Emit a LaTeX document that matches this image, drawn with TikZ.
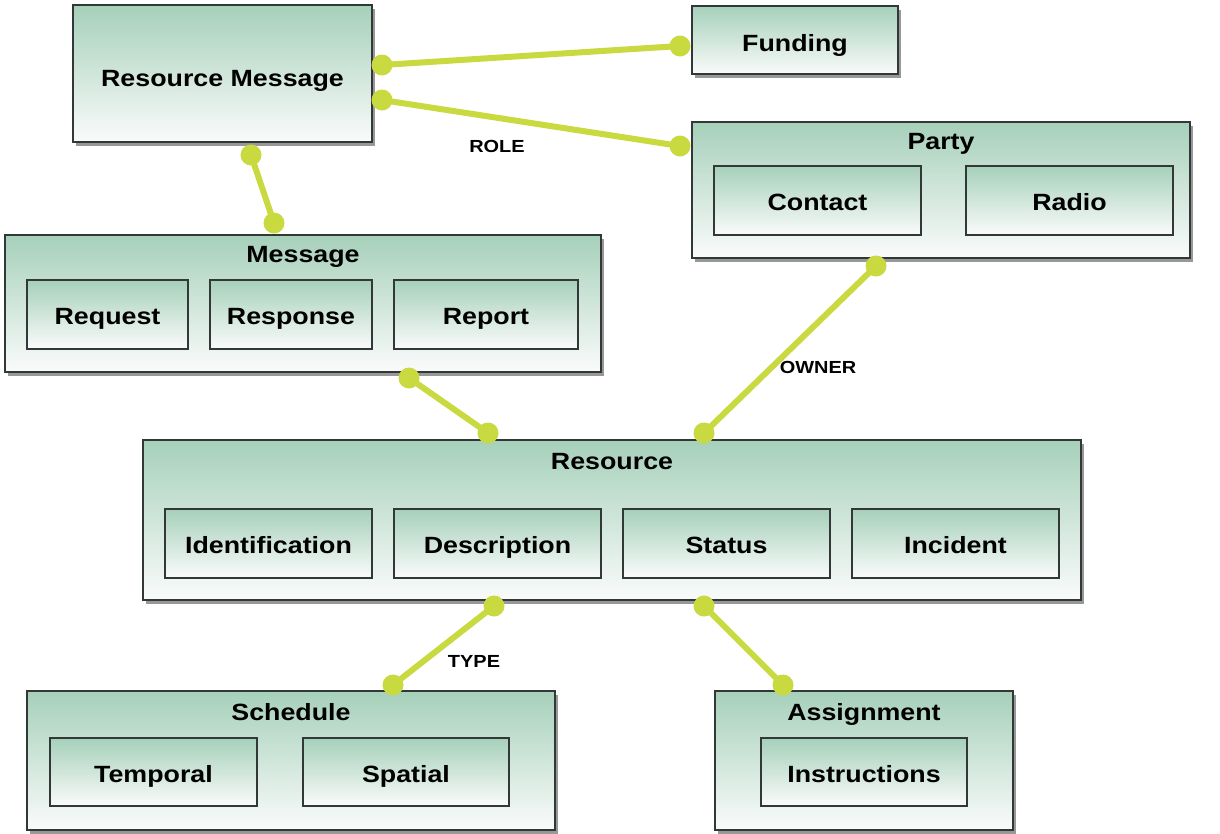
\documentclass[tikz,border=0pt]{standalone}
\usepackage{fontspec}
\setmainfont{Liberation Sans}[FakeStretch=1.14]
\usetikzlibrary{shadows}
\definecolor{lime}{RGB}{200,218,64}
\definecolor{boxtop}{RGB}{166,208,186}
\definecolor{boxbot}{RGB}{250,251,251}
\definecolor{edge}{RGB}{50,55,55}
\tikzset{
  box/.style={draw=edge, line width=1.6pt, top color=boxtop, bottom color=boxbot, inner sep=0pt,
    text height=21pt, text depth=1pt, font=\fontsize{23.5}{26}\selectfont\bfseries},
  outerbox/.style={box, drop shadow={opacity=0.5, shadow xshift=3pt, shadow yshift=-4pt, fill=black!80}},
  ttl/.style={inner sep=0pt, text height=21pt, text depth=1pt, font=\fontsize{23.5}{26}\selectfont\bfseries},
  lbl/.style={inner sep=0pt, text height=15pt, text depth=1pt, font=\fontsize{17.5}{20}\selectfont\bfseries},
  conn/.style={draw=lime, line width=6pt},
  dot/.style={circle, fill=lime, inner sep=0pt, minimum size=21pt},
}
\begin{document}
\begin{tikzpicture}[x=1pt, y=-1pt]
\useasboundingbox[fill=white] (0,0) rectangle (1220,833);

% Resource Message
\node[outerbox, minimum width=299pt, minimum height=137pt] (rm) at (222.5,73.5) {};
\node[ttl] (rmt) at (222.5,76.5) {Resource Message};
% Funding
\node[outerbox, minimum width=206pt, minimum height=68pt] (fund) at (795,40) {};
\node[ttl] (fundt) at (795,41.5) {Funding};
% Party
\node[outerbox, minimum width=498pt, minimum height=136pt] (party) at (941,190) {};
\node[ttl] (partyt) at (941,139.5) {Party};
\node[box, minimum width=207pt, minimum height=69pt] (contact) at (817.5,200.5) {Contact};
\node[box, minimum width=207pt, minimum height=69pt] (radio) at (1069.5,200.5) {Radio};
% Message
\node[outerbox, minimum width=596pt, minimum height=137pt] (msg) at (303,303.5) {};
\node[ttl] (msgt) at (303,252.5) {Message};
\node[box, minimum width=161pt, minimum height=69pt] (request) at (107.5,314.5) {Request};
\node[box, minimum width=162pt, minimum height=69pt] (response) at (291,314.5) {Response};
\node[box, minimum width=184pt, minimum height=69pt] (report) at (486,314.5) {Report};
% Resource
\node[outerbox, minimum width=938pt, minimum height=160pt] (res) at (612,520) {};
\node[ttl] (rest) at (612,459.5) {Resource};
\node[box, minimum width=207pt, minimum height=69pt] (ident) at (268.5,543.5) {Identification};
\node[box, minimum width=207pt, minimum height=69pt] (descr) at (497.5,543.5) {Description};
\node[box, minimum width=207pt, minimum height=69pt] (status) at (726.5,543.5) {Status};
\node[box, minimum width=207pt, minimum height=69pt] (incident) at (955.5,543.5) {Incident};
% Schedule
\node[outerbox, minimum width=528pt, minimum height=139pt] (sched) at (291,760.5) {};
\node[ttl] (schedt) at (291,710.5) {Schedule};
\node[box, minimum width=207pt, minimum height=68pt] (temporal) at (153.5,772) {Temporal};
\node[box, minimum width=206pt, minimum height=68pt] (spatial) at (406,772) {Spatial};
% Assignment
\node[outerbox, minimum width=298pt, minimum height=139pt] (assign) at (864,760.5) {};
\node[ttl] (assignt) at (864,710.5) {Assignment};
\node[box, minimum width=206pt, minimum height=68pt] (instr) at (864,772) {Instructions};

% connector end points
\coordinate (rmF) at (382,65);
\coordinate (fuR) at (680,46);
\coordinate (rmP) at (382,100);
\coordinate (paR) at (680,146);
\coordinate (rmM) at (251,155);
\coordinate (msR) at (274,223);
\coordinate (paS) at (876,266);
\coordinate (reP) at (704,433);
\coordinate (msS) at (409,378);
\coordinate (reM) at (488,433);
\coordinate (reS) at (494,606);
\coordinate (scR) at (393,685);
\coordinate (reA) at (704,606);
\coordinate (asR) at (783,685);

\draw[conn] (rmF) -- (fuR);
\draw[conn] (rmP) -- (paR);
\draw[conn] (rmM) -- (msR);
\draw[conn] (paS) -- (reP);
\draw[conn] (msS) -- (reM);
\draw[conn] (reS) -- (scR);
\draw[conn] (reA) -- (asR);

\foreach \p in {rmF,fuR,rmP,paR,rmM,msR,paS,reP,msS,reM,reS,scR,reA,asR}
  \node[dot] (d\p) at (\p) {};

% labels
\node[lbl] (role) at (497,145) {ROLE};
\node[lbl] (owner) at (818,366) {OWNER};
\node[lbl] (type) at (474,660) {TYPE};
\end{tikzpicture}
\end{document}
